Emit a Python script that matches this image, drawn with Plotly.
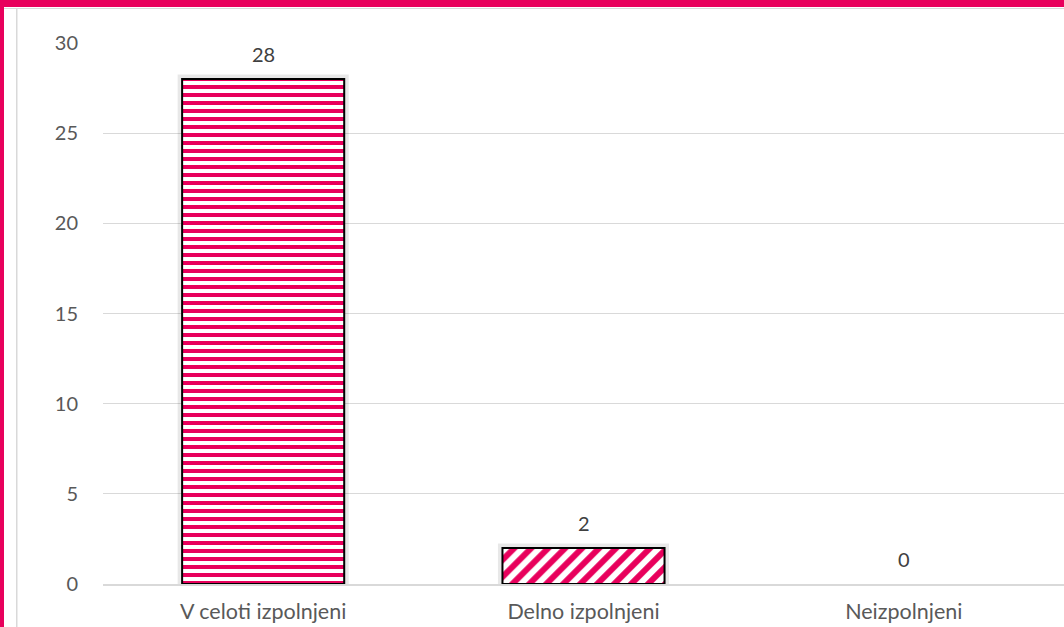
import plotly.graph_objects as go

categories = ["V celoti izpolnjeni", "Delno izpolnjeni", "Neizpolnjeni"]
values = [28, 2, 0]
patterns = ["-", "/", ""]
y_ticks = [0, 5, 10, 15, 20, 25, 30]

PINK = "#E8005C"
W, H = 1064, 627
L, R, T, B = 103, 0, 43, 43
pw, ph = W - L - R, H - T - B


def px_x(x):
    return (x - L) / pw


def px_y(y):
    return (H - B - y) / ph


def px_rect(x0, y0, x1, y1, color):
    return dict(type="rect", xref="paper", yref="paper", x0=px_x(x0), x1=px_x(x1),
                y0=px_y(y1), y1=px_y(y0), fillcolor=color, line_width=0, layer="above")


# no outline for empty bars
outline = [2 if v else 0 for v in values]
glow = [9 if v else 0 for v in values]

fig = go.Figure()

# soft shadow behind bars
fig.add_trace(go.Bar(
    x=categories,
    y=values,
    width=0.506,
    marker=dict(color="rgba(0,0,0,0)", line=dict(color="rgba(0,0,0,0.09)", width=glow)),
    hoverinfo="skip",
    showlegend=False,
))

fig.add_trace(go.Bar(
    x=categories,
    y=values,
    width=0.506,
    marker=dict(
        color="white",
        line=dict(color="black", width=outline),
        pattern=dict(shape=patterns, fgcolor=PINK, bgcolor="white", size=[8, 12, 8],
                     solidity=0.5, fillmode="replace"),
    ),
    showlegend=False,
))

# value labels
for c, v in zip(categories, values):
    fig.add_annotation(x=c, y=v, text=str(v), showarrow=False, yanchor="bottom", yshift=11,
                       font=dict(size=20, color="#404040"))

fig.update_layout(
    width=W,
    height=H,
    barmode="overlay",
    plot_bgcolor="white",
    paper_bgcolor="white",
    margin=dict(l=L, r=R, t=T, b=B),
    font=dict(family="Lato, Open Sans, Arial, sans-serif", color="#595959", size=20),
    shapes=[
        px_rect(0, 0, W, 7, PINK),
        px_rect(0, 0, 4, H, PINK),
        px_rect(4, 8, W, 9, "#d9d9d9"),
        px_rect(16, 9, 17.5, H, "#d9d9d9"),
    ],
)
fig.update_xaxes(showgrid=False, showline=True, linecolor="#d9d9d9", linewidth=2, ticks="",
                 ticklabelstandoff=7, tickfont=dict(size=21.5, color="#595959"))
fig.update_yaxes(range=[0, 30], tickvals=y_ticks, gridcolor="#d9d9d9", gridwidth=1, zeroline=False,
                 ticks="", ticklabelstandoff=24, tickfont=dict(size=20, color="#595959"))

fig.write_html("out.html", config={"displayModeBar": False},
               post_script="document.body.style.margin='0';document.body.style.overflow='hidden';")
